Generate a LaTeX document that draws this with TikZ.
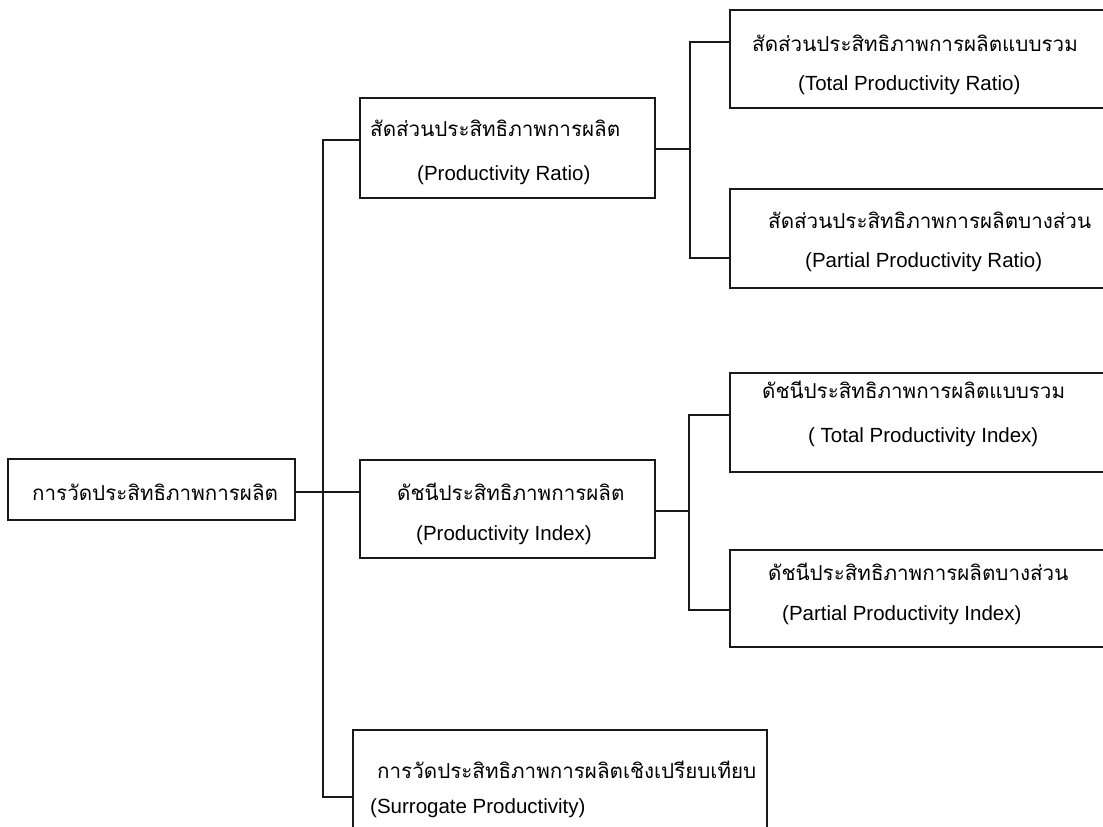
\documentclass[tikz,border=0pt]{standalone}
\usepackage{fontspec}
\setmainfont{Liberation Sans}
\newfontfamily\thaifont[Script=Thai]{Loma}
\begin{document}
\begin{tikzpicture}[x=1pt,y=-1pt,
  box/.style={draw=black!90,line width=1.6pt,rectangle,inner sep=0pt},
  link/.style={draw=black!90,line width=1.6pt},
  th/.style={font=\thaifont\fontsize{20.6}{24}\selectfont,inner sep=0pt,anchor=west,text=black},
  en/.style={font=\fontsize{20.5}{24}\selectfont,inner sep=0pt,anchor=west,text=black}]
\useasboundingbox (0,0) rectangle (1103,827);
\clip (0,0) rectangle (1103,827);

% boxes
\node[box,minimum width=287pt,minimum height=61pt] (root) at (151.5,489.5) {};
\node[box,minimum width=295pt,minimum height=100pt] (pr) at (507.5,148) {};
\node[box,minimum width=295pt,minimum height=98pt] (pi) at (507.5,509) {};
\node[box,minimum width=414pt,minimum height=120pt] (sur) at (560,790) {};
\node[box,minimum width=390pt,minimum height=98pt] (tr) at (925,59) {};
\node[box,minimum width=390pt,minimum height=99pt] (par) at (925,238.5) {};
\node[box,minimum width=390pt,minimum height=99pt] (ti) at (925,422.5) {};
\node[box,minimum width=390pt,minimum height=97pt] (pai) at (925,598.5) {};

% texts
\node[th] (t-root) at (32,492) {การวัดประสิทธิภาพการผลิต};
\node[th] (t-pr) at (370,128) {สัดส่วนประสิทธิภาพการผลิต};
\node[en] (e-pr) at (417,175) {(Productivity Ratio)};
\node[th] (t-pi) at (397,492) {ดัชนีประสิทธิภาพการผลิต};
\node[en] (e-pi) at (416,535) {(Productivity Index)};
\node[th] (t-tr) at (752,43) {สัดส่วนประสิทธิภาพการผลิตแบบรวม};
\node[en] (e-tr) at (798,85) {(Total Productivity Ratio)};
\node[th] (t-par) at (768,220) {สัดส่วนประสิทธิภาพการผลิตบางส่วน};
\node[en] (e-par) at (805,262) {(Partial Productivity Ratio)};
\node[th] (t-ti) at (762,390) {ดัชนีประสิทธิภาพการผลิตแบบรวม};
\node[en] (e-ti) at (808,437) {( Total Productivity Index)};
\node[th] (t-pai) at (768,572) {ดัชนีประสิทธิภาพการผลิตบางส่วน};
\node[en] (e-pai) at (782,615) {(Partial Productivity Index)};
\node[th] (t-sur) at (377,770) {การวัดประสิทธิภาพการผลิตเชิงเปรียบเทียบ};
\node[en] (e-sur) at (370,808) {(Surrogate Productivity)};

% junction points
\coordinate (rootJ) at (323,492);
\coordinate (trunkTop) at (323,140);
\coordinate (trunkBot) at (323,797);
\coordinate (prJ) at (690,149);
\coordinate (rTop) at (690,42);
\coordinate (rBot) at (690,258);
\coordinate (piJ) at (689,511);
\coordinate (iTop) at (689,415);
\coordinate (iBot) at (689,610);

% connectors
\draw[link] (root.east |- rootJ) -- (pi.west |- rootJ);
\draw[link] (pr.west |- trunkTop) -- (trunkTop) -- (trunkBot) -- (sur.west |- trunkBot);
\draw[link] (pr.east |- prJ) -- (prJ);
\draw[link] (tr.west |- rTop) -- (rTop) -- (rBot) -- (par.west |- rBot);
\draw[link] (pi.east |- piJ) -- (piJ);
\draw[link] (ti.west |- iTop) -- (iTop) -- (iBot) -- (pai.west |- iBot);
\end{tikzpicture}
\end{document}
